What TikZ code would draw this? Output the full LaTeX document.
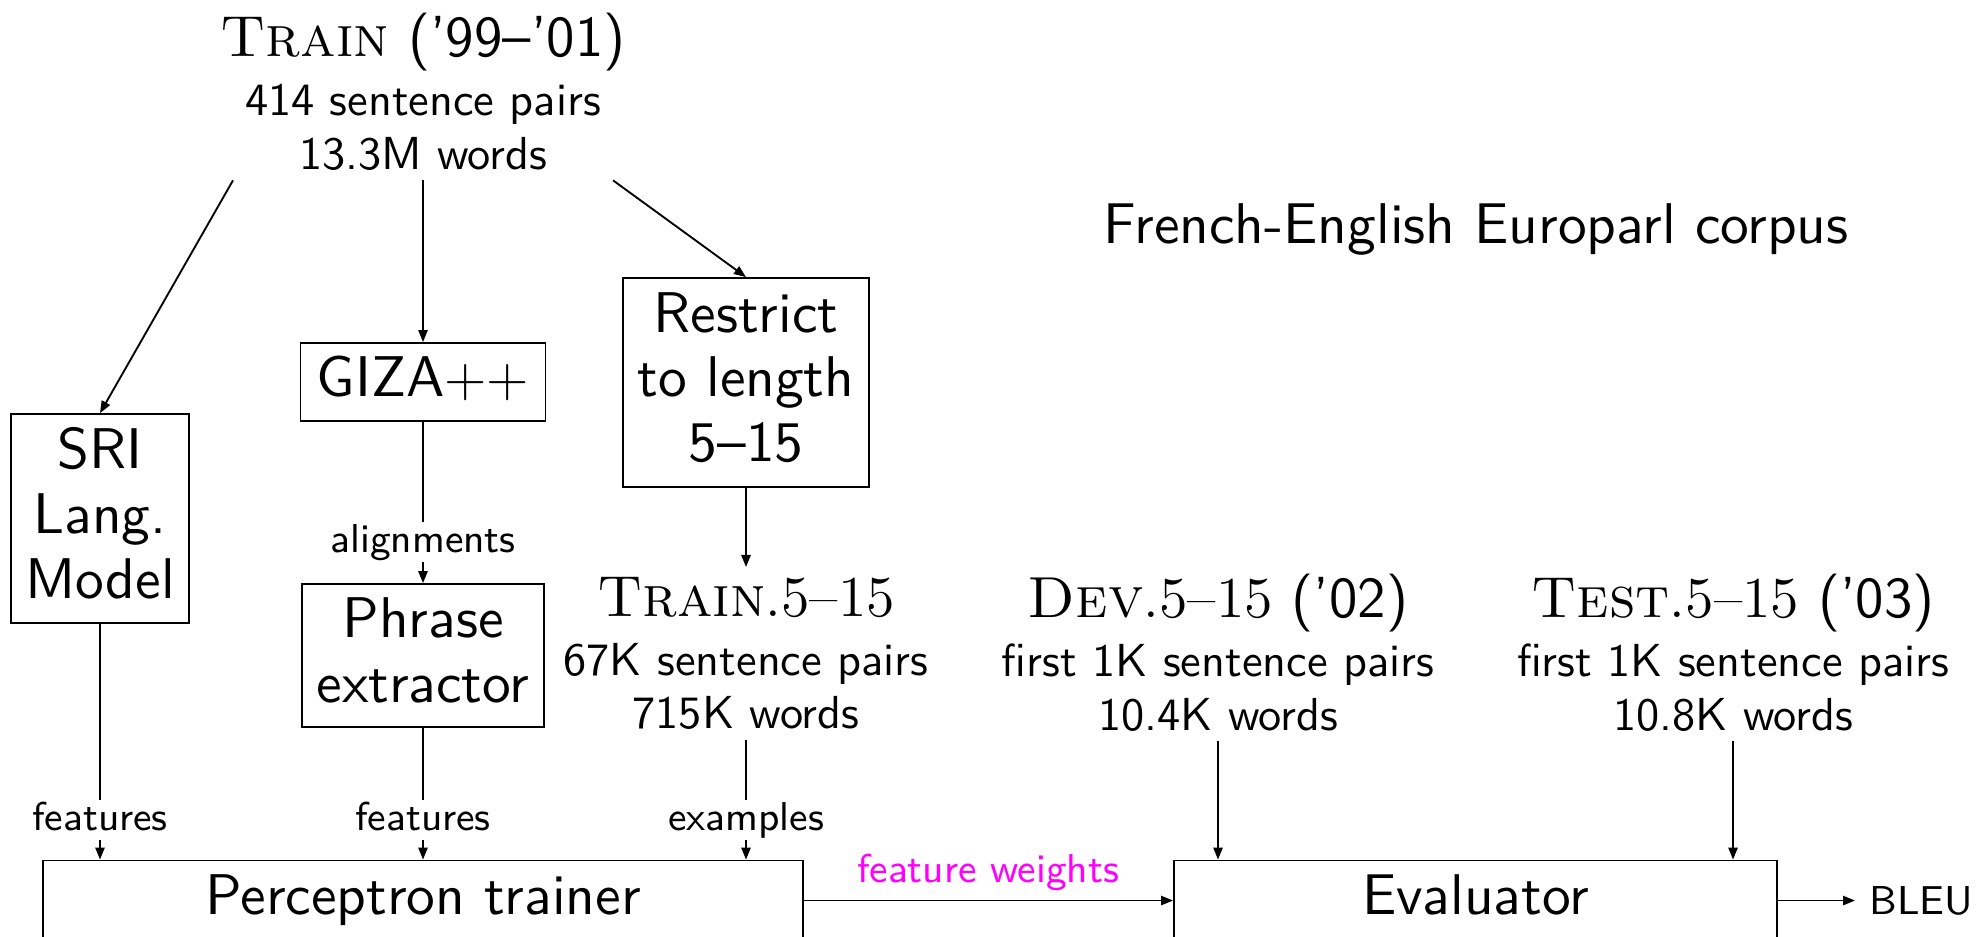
\documentclass[tikz,border=0pt]{standalone}
\usepackage{fontspec}
\usetikzlibrary{arrows.meta,calc}
% sans face at its 10pt design, scaled up for box text
\newfontfamily\bigsans{lmsans10-regular}[Extension=.otf, Ligatures=TeX]
\definecolor{fwmagenta}{RGB}{255,0,255}
\newcommand\headfont{\fontsize{12.5}{14}\selectfont}
\tikzset{
  box/.style={draw, inner sep=0pt, align=center, text depth=2.4pt,
    font=\fontsize{12.4}{14}\bigsans},
  data/.style={inner xsep=0pt, inner ysep=2pt, align=center, anchor=north,
    font=\fontsize{10}{11.5}\selectfont\sffamily},
  lbl/.style={inner sep=0.3pt, anchor=base, text height=6pt, text depth=1.7pt,
    font=\fontsize{8.7}{10}\selectfont\sffamily},
  conn/.style={-{Triangle[length=2.6pt,width=2pt]}},
}
\begin{document}
\begin{tikzpicture}[x=0.21598pt,y=-0.21598pt]
\useasboundingbox (0,0) rectangle (1979,936);
\clip (0,0) rectangle (1979,936);

% corpora
\node[data] (train) at (423,3)
  {{\headfont{\rmfamily\textsc{Train}} ('99--'01)}\\[1.3pt]414 sentence pairs\\13.3M words};
\node[data] (train5) at (746,567)
  {{\headfont\rmfamily\textsc{Train}.5--15}\\[1.3pt]67K sentence pairs\\715K words};
\node[data] (dev) at (1218,564)
  {{\headfont{\rmfamily\textsc{Dev}.5--15} ('02)}\\[1.3pt]first 1K sentence pairs\\10.4K words};
\node[data] (test) at (1733,564)
  {{\headfont{\rmfamily\textsc{Test}.5--15} ('03)}\\[1.3pt]first 1K sentence pairs\\10.8K words};

\node[anchor=base, inner sep=0pt, font=\fontsize{12.4}{14}\bigsans] (corpus)
  at (1476,243) {French-English Europarl corpus};

% processing steps
\node[box, minimum width=38.44pt, minimum height=45.14pt] (sri) at (100,518.5) {SRI\\Lang.\\Model};
\node[box, minimum width=52.92pt, minimum height=16.85pt] (giza) at (423,382) {GIZA$++$};
\node[box, minimum width=52.27pt, minimum height=30.89pt] (phrase) at (423,655.5) {Phrase\\extractor};
\node[box, minimum width=53.13pt, minimum height=45.14pt] (restrict) at (746,382.5) {Restrict\\to length\\5--15};
\node[box, minimum width=164.14pt, minimum height=17.28pt] (percep) at (423,900.5) {Perceptron trainer};
\node[box, minimum width=130.24pt, minimum height=17.28pt] (eval) at (1475.5,900.5) {Evaluator};

% edge labels
\node[lbl] (al) at (423,552) {alignments};
\node[lbl] (f1) at (100,830) {features};
\node[lbl] (f2) at (423,830) {features};
\node[lbl] (ex) at (746,830) {examples};
\node[anchor=base, inner sep=0pt, text=fwmagenta, font=\fontsize{8.7}{10}\selectfont\sffamily] (fw)
  at (988,882) {feature weights};
\node[anchor=west, inner sep=2.9pt, font=\fontsize{8.7}{10}\selectfont\sffamily] (bleu)
  at (1855,900.5) {BLEU};

% connectors
\coordinate (trainL) at ($(train.south)+(-190,0)$);
\coordinate (trainR) at ($(train.south)+(190,0)$);
\draw[conn] (trainL) -- (sri.north);
\draw[conn] (train.south) -- (giza.north);
\draw[conn] (trainR) -- (restrict.north);

\draw (giza) -- (al);
\draw[conn] (al) -- (phrase);
\draw[conn] (restrict) -- (train5);

\draw (sri) -- (f1);
\draw[conn] (f1) -- (f1 |- percep.north);
\draw (phrase) -- (f2);
\draw[conn] (f2) -- (f2 |- percep.north);
\draw (train5) -- (ex);
\draw[conn] (ex) -- (ex |- percep.north);

\draw[conn] (dev) -- (dev |- eval.north);
\draw[conn] (test) -- (test |- eval.north);

\draw[conn] (percep) -- (eval);
\draw[conn] (eval) -- (bleu);
\end{tikzpicture}
\end{document}
